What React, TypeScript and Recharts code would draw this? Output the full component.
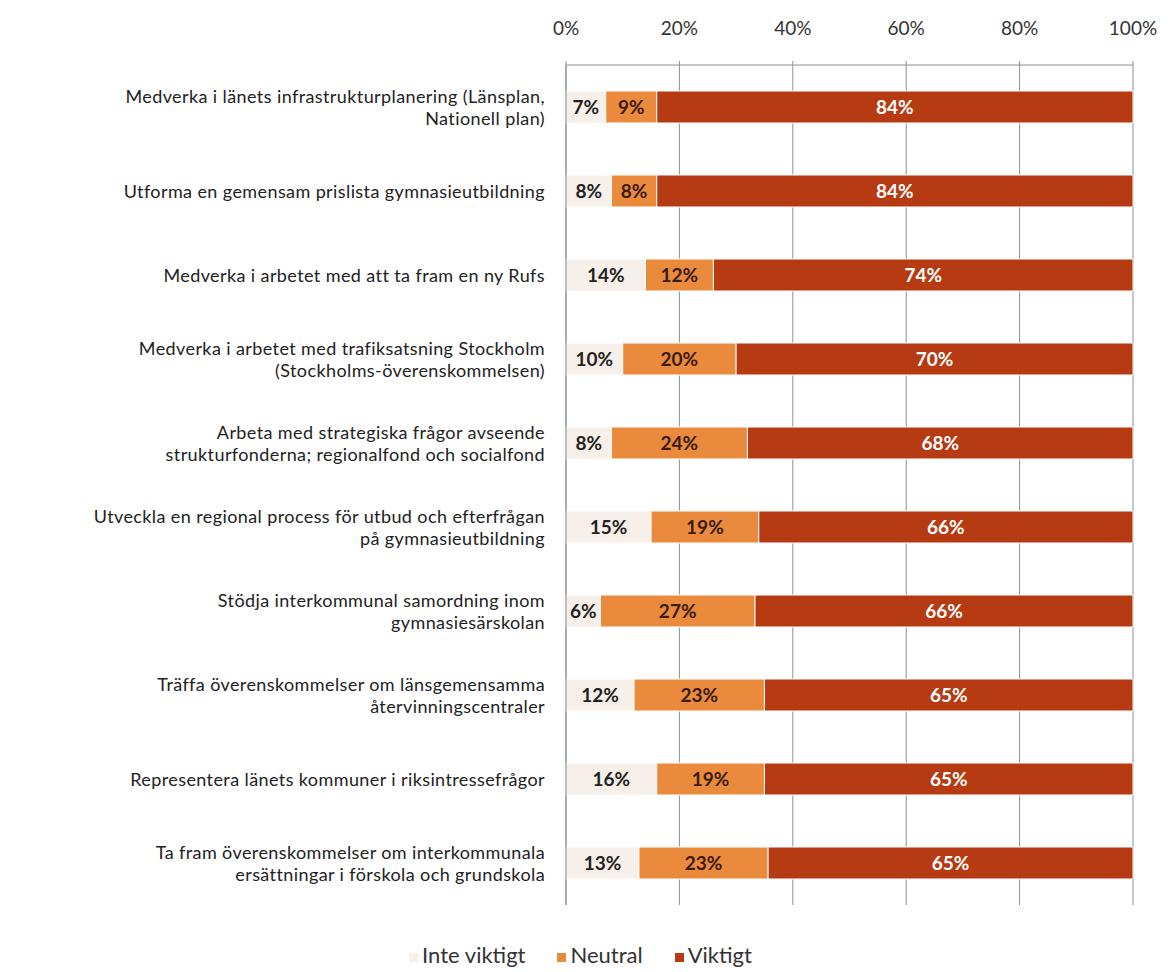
import { Bar, BarChart, CartesianGrid, LabelList, Legend, XAxis, YAxis } from "recharts";

const categories = [
  "Medverka i länets infrastrukturplanering (Länsplan,\nNationell plan)",
  "Utforma en gemensam prislista gymnasieutbildning",
  "Medverka i arbetet med att ta fram en ny Rufs",
  "Medverka i arbetet med trafiksatsning Stockholm\n(Stockholms-överenskommelsen)",
  "Arbeta med strategiska frågor avseende\nstrukturfonderna; regionalfond och socialfond",
  "Utveckla en regional process för utbud och efterfrågan\npå gymnasieutbildning",
  "Stödja interkommunal samordning inom\ngymnasiesärskolan",
  "Träffa överenskommelser om länsgemensamma\nåtervinningscentraler",
  "Representera länets kommuner i riksintressefrågor",
  "Ta fram överenskommelser om interkommunala\nersättningar i förskola och grundskola",
];

const inteViktigt = [7, 8, 14, 10, 8, 15, 6, 12, 16, 13];
const neutral = [9, 8, 12, 20, 24, 19, 27, 23, 19, 23];
const viktigt = [84, 84, 74, 70, 68, 66, 66, 65, 65, 65];

const xTicks = [0, 0.2, 0.4, 0.6, 0.8, 1];

const chartData = categories.map((name, i) => ({
  name,
  inte: inteViktigt[i],
  neutral: neutral[i],
  viktigt: viktigt[i],
}));

const FONT = "Lato, 'Noto Sans', sans-serif";

function CategoryTick(props: any) {
  const { y, payload } = props;
  const lines = String(payload.value).split("\n");
  const lh = 22;
  const y0 = y - ((lines.length - 1) * lh) / 2;
  return (
    <text
      x={545}
      y={y0}
      textAnchor="end"
      fontSize={18}
      letterSpacing={0.4}
      fill="#222"
      fontFamily={FONT}
      dominantBaseline="central"
    >
      {lines.map((l, i) => (
        <tspan key={i} x={545} y={y0 + i * lh}>
          {l}
        </tspan>
      ))}
    </text>
  );
}

const pct = (v: any) => `${v}%`;

function App() {
  return (
    <div style={{ position: "absolute", left: 0, top: 0, background: "#fff" }}>
      <BarChart
        width={1169}
        height={972}
        data={chartData}
        layout="vertical"
        stackOffset="expand"
        barSize={32}
        margin={{ top: 23, right: 36, bottom: 40, left: 0 }}
      >
        <CartesianGrid horizontal={false} stroke="#8c9098" />
        <XAxis
          type="number"
          orientation="top"
          domain={[0, 1]}
          ticks={xTicks}
          tickFormatter={(v) => `${Math.round(v * 100)}%`}
          height={42}
          axisLine={{ stroke: "#8c9098" }}
          tickLine={{ stroke: "#8c9098" }}
          tickSize={4}
          tickMargin={26}
          tick={{ fontSize: 19, fill: "#333", fontFamily: FONT }}
        />
        <YAxis
          type="category"
          dataKey="name"
          width={566}
          axisLine={{ stroke: "#8c9098" }}
          tickLine={false}
          tick={<CategoryTick />}
          interval={0}
        />
        <Legend
          verticalAlign="bottom"
          iconType="square"
          iconSize={9}
          wrapperStyle={{ fontFamily: FONT, fontSize: 22, bottom: 4, paddingLeft: 30 }}
          formatter={(v) => <span style={{ color: "#333", marginRight: 22 }}>{v}</span>}
        />
        <Bar dataKey="inte" name="Inte viktigt" stackId="a" fill="#f7efe9" stroke="#fff" isAnimationActive={false}>
          <LabelList dataKey="inte" position="center" formatter={pct} fill="#222" fontSize={19} fontWeight="bold" fontFamily={FONT} />
        </Bar>
        <Bar dataKey="neutral" name="Neutral" stackId="a" fill="#e98a3c" stroke="#fff" isAnimationActive={false}>
          <LabelList dataKey="neutral" position="center" formatter={pct} fill="#3a1a08" fontSize={19} fontWeight="bold" fontFamily={FONT} />
        </Bar>
        <Bar dataKey="viktigt" name="Viktigt" stackId="a" fill="#b63a12" stroke="#fff" isAnimationActive={false}>
          <LabelList dataKey="viktigt" position="center" formatter={pct} fill="#fff" fontSize={19} fontWeight="bold" fontFamily={FONT} />
        </Bar>
      </BarChart>
    </div>
  );
}

export default App;
